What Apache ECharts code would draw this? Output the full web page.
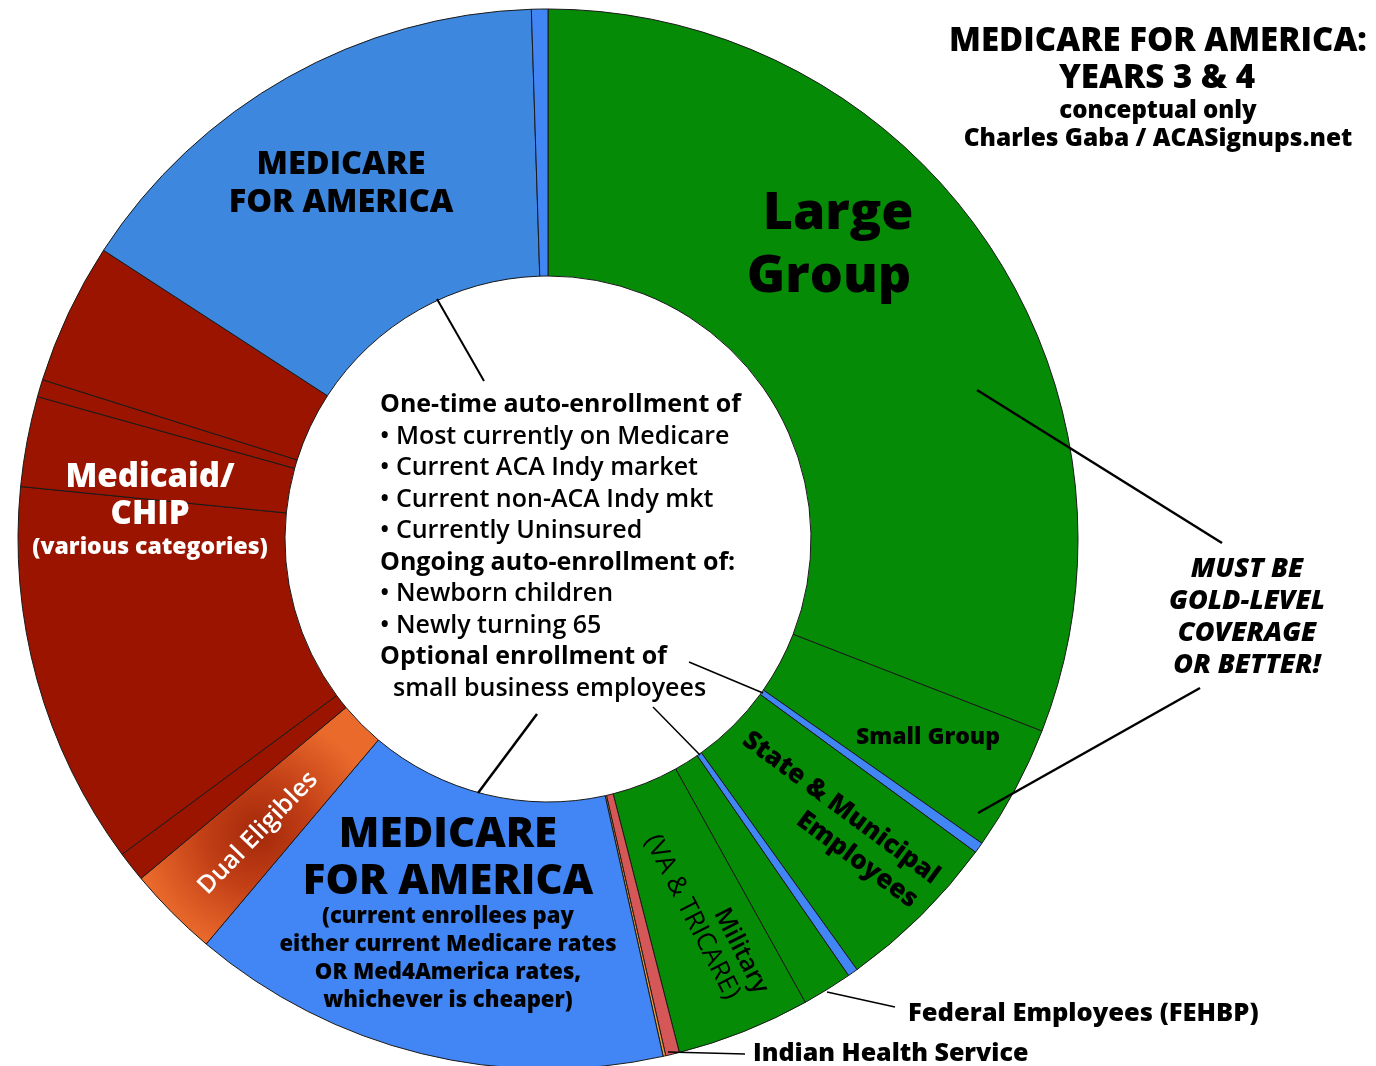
<!DOCTYPE html>
<html>
<head>
<meta charset="utf-8">
<script src="https://cdn.jsdelivr.net/npm/echarts@6/dist/echarts.min.js"></script>
<style>
  html, body { margin: 0; padding: 0; background: #ffffff; }
  #chart { width: 1376px; height: 1066px; }
</style>
</head>
<body>
<div id="chart"></div>
<script>
// ---- DATA (share of total coverage, percent; clockwise from 12 o'clock) ----
const categories = [
  'Large Group',
  'Small Group',
  'Medicare for America (small business)',
  'State & Municipal Employees',
  'Medicare for America (state & municipal)',
  'Federal Employees (FEHBP)',
  'Military (VA & TRICARE)',
  'Indian Health Service',
  'Other',
  'Medicare for America (current enrollees)',
  'Dual Eligibles',
  'Medicaid/CHIP 1',
  'Medicaid/CHIP 2',
  'Medicaid/CHIP 3',
  'Medicaid/CHIP 4',
  'Medicaid/CHIP 5',
  'Medicare for America',
  'Medicare for America (large group)'
];
const shares = [30.9, 3.83, 0.33, 5.03, 0.31, 1.53, 4.08, 0.42, 0.08, 14.64, 2.78, 0.92, 11.72, 2.75, 0.53, 4.31, 15.33, 0.5];

const titleLines = ['MEDICARE FOR AMERICA:', 'YEARS 3 & 4', 'conceptual only', 'Charles Gaba / ACASignups.net'];
const centerLines = [
  ['One-time auto-enrollment of', true],
  ['• Most currently on Medicare', false],
  ['• Current ACA Indy market', false],
  ['• Current non-ACA Indy mkt', false],
  ['• Currently Uninsured', false],
  ['Ongoing auto-enrollment of:', true],
  ['• Newborn children', false],
  ['• Newly turning 65', false],
  ['Optional enrollment of', true],
  ['  small business employees', false]
];
const goldLines = ['MUST BE', 'GOLD-LEVEL', 'COVERAGE', 'OR BETTER!'];
const m4aNote = ['(current enrollees pay', 'either current Medicare rates', 'OR Med4America rates,', 'whichever is cheaper)'];

// ---- STYLES ----
const dualGlow = {
  type: 'radial', x: 258, y: 833, r: 120, global: true,
  colorStops: [
    { offset: 0, color: '#a3280a' },
    { offset: 0.45, color: '#c23f16' },
    { offset: 1, color: '#ea6a2c' }
  ]
};
const colorMap = {
  'Large Group': '#068b06',
  'Small Group': '#068b06',
  'State & Municipal Employees': '#068b06',
  'Federal Employees (FEHBP)': '#068b06',
  'Military (VA & TRICARE)': '#068b06',
  'Indian Health Service': '#d65757',
  'Other': '#f29a2c',
  'Dual Eligibles': dualGlow,
  'Medicare for America': '#3e87df'
};
function colorFor(name) {
  if (colorMap[name]) return colorMap[name];
  if (name.indexOf('Medicaid') === 0) return '#9a1400';
  return '#4285f4';
}

const F = '"Open Sans", Lato, "DejaVu Sans", sans-serif';
const graphics = [];
function txt(x, y, text, size, opts) {
  opts = opts || {};
  graphics.push({
    type: 'text', x: x, y: y, z: 100,
    rotation: (opts.rot || 0) * Math.PI / 180,
    silent: true,
    style: {
      text: text,
      font: (opts.italic ? 'italic ' : '') + (opts.weight || '800') + ' ' + size + 'px ' + F,
      fill: opts.fill || '#000',
      textAlign: opts.align || 'center',
      textVerticalAlign: 'middle'
    }
  });
}
function line(x1, y1, x2, y2, w) {
  graphics.push({ type: 'line', z: 100, silent: true, shape: { x1: x1, y1: y1, x2: x2, y2: y2 },
    style: { stroke: '#000', lineWidth: w || 2 } });
}

// title
txt(1158, 42, titleLines[0], 33);
txt(1157, 79, titleLines[1], 33);
txt(1158, 111, titleLines[2], 24);
txt(1158, 139, titleLines[3], 24.5);

// ring labels
txt(341, 165, 'MEDICARE', 32.5);
txt(341, 203, 'FOR AMERICA', 32.5);
txt(838, 214, 'Large', 52);
txt(829, 277, 'Group', 52);
txt(150, 478, 'Medicaid/', 33, { fill: '#fff' });
txt(150, 515, 'CHIP', 33, { fill: '#fff' });
txt(150, 547, '(various categories)', 23, { fill: '#fff' });
txt(258, 833, 'Dual Eligibles', 25, { fill: '#fff', rot: 46, weight: '600' });
txt(448, 835, 'MEDICARE', 42);
txt(448, 882, 'FOR AMERICA', 42);
m4aNote.forEach(function (t, i) { txt(448, 917 + i * 28, t, 22); });
txt(928, 737, 'Small Group', 23);
txt(841, 808, 'State & Municipal', 26, { rot: -36.5 });
txt(857, 860, 'Employees', 26, { rot: -36.5 });
txt(741, 951, 'Military', 25, { rot: -63, weight: '600' });
txt(692, 917, '(VA & TRICARE)', 26, { rot: -63, weight: '500' });
goldLines.forEach(function (t, i) { txt(1247, 569 + i * 32, t, 27, { italic: true }); });
txt(908, 1014, 'Federal Employees (FEHBP)', 25.5, { align: 'left' });
txt(753, 1054, 'Indian Health Service', 25, { align: 'left' });

// center text
centerLines.forEach(function (c, i) {
  txt(380, 405 + i * 31.5, c[0], 25, { align: 'left', weight: c[1] ? 'bold' : '600' });
});

// leader lines
line(437, 299, 484, 381, 2);
line(977, 390, 1222, 543, 2.5);
line(1200, 688, 978, 813, 2.5);
line(689, 662, 763, 693, 1.5);
line(653, 707, 700, 755, 1.5);
line(478, 793, 537, 714, 2.5);
line(827, 992, 895, 1007, 1.5);
line(668, 1052, 745, 1054, 1.5);

const chart = echarts.init(document.getElementById('chart'), null, { renderer: 'canvas' });
chart.setOption({
  backgroundColor: '#ffffff',
  animation: false,
  series: [{
    type: 'pie',
    center: [548, 539],
    radius: [263, 530],
    startAngle: 90,
    clockwise: true,
    minAngle: 0,
    avoidLabelOverlap: false,
    silent: true,
    label: { show: false },
    labelLine: { show: false },
    emphasis: { disabled: true },
    itemStyle: { borderColor: '#1a1a1a', borderWidth: 1 },
    data: categories.map(function (c, i) {
      return { name: c, value: shares[i], itemStyle: { color: colorFor(c) } };
    })
  }],
  graphic: graphics
});
</script>
</body>
</html>
